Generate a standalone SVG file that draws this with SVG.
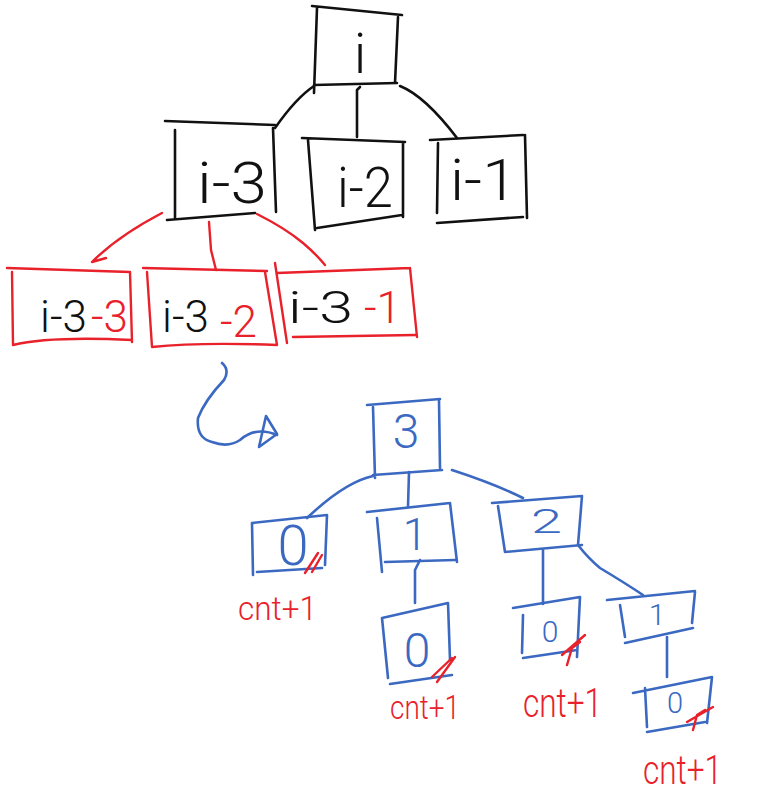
<svg xmlns="http://www.w3.org/2000/svg" width="784" height="794" viewBox="0 0 784 794">
<style>
.k{fill:none;stroke:#111;stroke-width:2.6;stroke-linecap:round;stroke-linejoin:round}
.r{fill:none;stroke:#e8212b;stroke-width:2.4;stroke-linecap:round;stroke-linejoin:round}
.b{fill:none;stroke:#3b69c2;stroke-width:2.6;stroke-linecap:round;stroke-linejoin:round}
text{font-family:Roboto,"Liberation Sans",sans-serif;font-weight:300}
.tk{fill:#111}
.tr{fill:#e8212b}
.tb{fill:#3b69c2}
</style>
<rect width="784" height="794" fill="#fff"/>

<g id="connectors">
  <path class="k" d="M314,86 Q296,98 275,128"/>
  <path class="k" d="M360,87 L357,90 L357,137"/>
  <path class="k" d="M400,86 Q425,96 457,138"/>
  <path class="r" d="M162,213 Q118,236 92,262 L106,258"/>
  <path class="r" d="M209,222 L211,250 L216,270"/>
  <path class="r" d="M257,214 Q285,228 303,243 Q316,254 325,265"/>
  <path class="b" d="M222,363 Q230,370 224,380 Q205,400 198,418 Q196,438 212,442 Q228,448 240,440 Q256,426 277,435"/>
  <path class="b" d="M266,416 L277,434 L259,447 Z"/>
  <path class="b" d="M373,476 Q345,482 307,518"/>
  <path class="b" d="M409,472 L408,507"/>
  <path class="b" d="M452,470 Q495,484 523,498"/>
  <path class="b" d="M420,560 L415,570 L415,603"/>
  <path class="b" d="M543,550 L543,604"/>
  <path class="b" d="M578,545 Q588,558 600,568 Q625,583 643,595"/>
  <path class="b" d="M667,637 L667,677"/>
</g>

<g id="node-i">
  <path class="k" d="M312,6 L402,15 M317,8 L314,93 M398,17 L395,83 M314,85 L397,83"/>
  <text class="tk" x="360" y="73" font-size="56" text-anchor="middle">i</text>
</g>
<g id="node-i-3">
  <path class="k" d="M165,121 L275,125 M175,130 L175,218 M273,128 L276,212 M167,220 L255,213"/>
  <text class="tk" x="197" y="203" font-size="58" textLength="70" lengthAdjust="spacingAndGlyphs">i-3</text>
</g>
<g id="node-i-2">
  <path class="k" d="M302,138 L405,142 M308,140 L315,230 M403,142 L403,217 M317,228 L402,215"/>
  <text class="tk" x="337" y="207" font-size="56" textLength="56" lengthAdjust="spacingAndGlyphs">i-2</text>
</g>
<g id="node-i-1">
  <path class="k" d="M430,140 L523,135 M438,143 L437,213 M525,135 L527,218 M437,223 L523,217"/>
  <text class="tk" x="450" y="200" font-size="58" textLength="67" lengthAdjust="spacingAndGlyphs">i-1</text>
</g>

<g id="node-i-3-3">
  <path class="r" d="M7,268 L130,272 M12,272 L13,345 M130,272 L132,342 M13,345 Q50,336 132,340"/>
  <text x="40" y="332" font-size="44"><tspan class="tk">i-3</tspan><tspan class="tr" x="91">-3</tspan></text>
</g>
<g id="node-i-3-2">
  <path class="r" d="M143,268 L267,271 M147,272 L152,347 M265,272 L277,345 M152,347 Q200,342 277,345"/>
  <text x="162" y="332" font-size="44"><tspan class="tk">i-3</tspan><tspan class="tr" x="220" y="337">-2</tspan></text>
</g>
<g id="node-i-3-1">
  <path class="r" d="M277,273 L410,268 M275,263 L287,343 M410,268 L417,337 M293,337 L415,335"/>
  <text x="288" y="323" font-size="44"><tspan class="tk" textLength="65" lengthAdjust="spacingAndGlyphs">i-3</tspan><tspan class="tr" x="364">-1</tspan></text>
</g>

<g id="node-3">
  <path class="b" d="M367,405 L440,399 M373,407 L375,478 M439,400 L440,468 M373,475 L442,470"/>
  <text class="tb" x="406" y="448" font-size="48" text-anchor="middle">3</text>
</g>
<g id="node-0a">
  <path class="b" d="M252,523 L327,515 M252,523 L253,575 M327,515 L325,565 M257,572 L322,568"/>
  <text class="tb" x="293" y="565" font-size="56" text-anchor="middle">0</text>
  <path class="r" d="M305,573 L318,553 M312,572 L322,555"/>
  <text class="tr" x="238" y="620" font-size="34" textLength="79" lengthAdjust="spacingAndGlyphs">cnt+1</text>
</g>
<g id="node-1a">
  <path class="b" d="M367,512 L450,503 M377,518 L382,572 M450,503 L457,562 M385,562 L455,560"/>
  <text class="tb" x="415" y="550" font-size="44" text-anchor="middle">1</text>
</g>
<g id="node-2">
  <path class="b" d="M492,503 L582,496 M498,506 L505,552 M582,496 L578,545 M505,552 L582,545"/>
  <text class="tb" x="531" y="533" font-size="34" textLength="31" lengthAdjust="spacingAndGlyphs">2</text>
</g>
<g id="node-0b">
  <path class="b" d="M382,618 L448,603 M382,618 L388,678 M448,603 L450,660 M390,684 L452,675"/>
  <text class="tb" x="417" y="667" font-size="48" text-anchor="middle">0</text>
  <path class="r" d="M432,677 L452,658 M437,682 L455,657"/>
  <text class="tr" x="390" y="719" font-size="34" textLength="70" lengthAdjust="spacingAndGlyphs">cnt+1</text>
</g>
<g id="node-0c">
  <path class="b" d="M513,608 L580,597 M523,615 L522,653 M580,597 L577,657 M523,658 L577,650"/>
  <text class="tb" x="550" y="642" font-size="30" text-anchor="middle">0</text>
  <path class="r" d="M562,655 L585,635 M567,665 L572,648 L580,642"/>
  <text class="tr" x="523" y="717" font-size="40" textLength="79" lengthAdjust="spacingAndGlyphs">cnt+1</text>
</g>
<g id="node-1b">
  <path class="b" d="M607,600 L695,591 M620,605 L625,637 M695,592 L692,623 M625,643 L693,628"/>
  <text class="tb" x="657" y="625" font-size="30" text-anchor="middle">1</text>
</g>
<g id="node-0d">
  <path class="b" d="M633,693 L712,677 M645,688 L647,727 M712,677 L707,723 M647,732 L705,722"/>
  <text class="tb" x="675" y="713" font-size="29" text-anchor="middle">0</text>
  <path class="r" d="M687,722 L713,707 M693,730 L697,715 L705,710"/>
  <text class="tr" x="643" y="784" font-size="40" textLength="79" lengthAdjust="spacingAndGlyphs">cnt+1</text>
</g>
</svg>
